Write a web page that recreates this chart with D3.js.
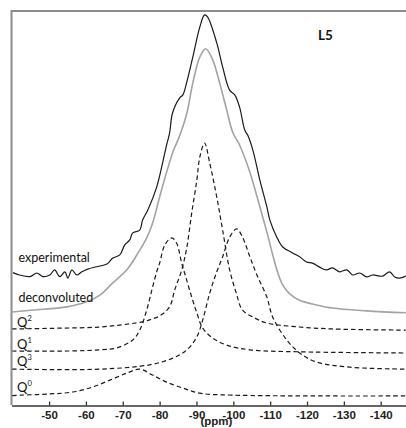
<!DOCTYPE html>
<html>
<head>
<meta charset="utf-8">
<script src="https://cdn.jsdelivr.net/npm/d3@7"></script>
<style>
  html, body { margin: 0; padding: 0; background: #fff; }
  svg { display: block; }
</style>
</head>
<body>
<svg id="chart" width="406" height="428"></svg>
<script>
// 29Si MAS NMR spectrum of sample L5: measured trace, fitted sum and the
// individual Q-species components (stacked with vertical offsets).
// Each series: [chemical shift (ppm), intensity (a.u., 0–100)]

const sampleName = "L5";

const experimental = [
  [-40.2,33.6],[-42.0,33.0],[-44.8,32.6],[-46.7,33.5],[-48.3,32.6],[-50.2,33.0],
  [-51.5,34.3],[-52.9,32.6],[-54.3,33.8],[-55.1,32.2],[-56.2,34.3],[-57.5,33.0],
  [-58.9,33.8],[-60.5,34.5],[-62.9,35.1],[-65.7,35.8],[-67.3,37.3],[-69.2,38.1],
  [-70.5,40.6],[-71.9,41.9],[-72.7,43.7],[-74.6,44.4],[-75.4,47.0],[-76.8,49.5],
  [-79.2,55.3],[-80.8,61.4],[-81.9,66.0],[-82.7,69.0],[-83.5,74.1],[-85.4,77.9],
  [-86.3,78.7],[-87.3,81.7],[-89.0,88.3],[-90.9,95.9],[-92.2,99.0],[-93.0,98.5],
  [-95.5,91.9],[-97.1,85.8],[-99.0,79.9],[-100.4,78.7],[-101.7,75.6],[-103.1,69.8],
  [-103.9,68.5],[-105.3,64.7],[-107.2,57.1],[-109.1,50.3],[-109.9,47.0],[-111.8,42.6],
  [-113.4,40.1],[-116.1,38.6],[-118.0,37.6],[-119.9,36.3],[-121.5,36.0],[-123.4,35.0],
  [-125.3,34.3],[-126.9,34.8],[-128.8,33.8],[-130.8,34.3],[-132.4,33.0],[-134.3,33.5],
  [-136.2,32.5],[-137.8,33.0],[-140.5,32.7],[-142.4,33.8],[-143.8,32.5],[-145.1,32.2],
  [-146.8,32.7]
];

const deconvoluted = [
  [-40.0,23.6],[-45.6,24.1],[-54.8,24.9],[-60.2,26.2],[-63.8,27.9],[-67.3,31.0],
  [-71.1,34.3],[-74.6,39.3],[-76.5,42.4],[-78.1,46.2],[-80.0,52.8],[-81.9,59.1],
  [-83.6,64.2],[-85.5,68.5],[-87.4,74.1],[-89.0,81.7],[-90.9,88.3],[-92.5,90.4],
  [-94.4,87.6],[-96.3,81.7],[-98.2,74.9],[-99.8,69.3],[-101.7,66.0],[-104.5,59.1],
  [-107.2,50.3],[-109.1,43.9],[-110.7,38.1],[-112.0,33.8],[-113.4,30.5],[-115.3,28.2],
  [-118.0,26.6],[-122.6,25.4],[-126.9,24.6],[-136.2,23.9],[-146.8,23.4]
];

// Q2 component, centred near -92 ppm
const q2 = [
  [-40.0,19.3],[-52.9,19.5],[-63.8,19.8],[-71.9,20.6],[-75.4,21.1],[-77.9,21.8],
  [-80.0,22.6],[-82.7,24.9],[-84.1,29.2],[-86.0,34.3],[-87.4,40.1],[-88.7,48.7],
  [-90.1,57.1],[-90.9,62.9],[-92.2,66.5],[-93.6,61.4],[-95.5,52.8],[-97.1,44.4],
  [-99.0,34.3],[-100.7,28.7],[-102.5,24.1],[-105.8,22.1],[-109.1,20.8],[-118.0,19.8],
  [-126.9,19.3],[-146.8,19.0]
];

// Q1 component, centred near -83 ppm
const q1 = [
  [-40.0,13.7],[-54.8,13.7],[-63.8,14.0],[-68.4,14.5],[-72.7,16.5],[-74.6,19.0],
  [-76.5,24.1],[-77.9,29.2],[-79.2,33.8],[-80.0,36.0],[-81.4,40.6],[-83.3,42.4],
  [-84.6,41.1],[-86.0,36.0],[-87.1,32.5],[-88.7,27.4],[-90.1,23.4],[-91.7,19.5],
  [-94.4,17.0],[-98.2,15.2],[-104.5,14.0],[-118.0,13.5],[-146.8,13.2]
];

// Q3 component, centred near -101 ppm
const q3 = [
  [-40.0,9.1],[-63.8,9.1],[-77.3,10.2],[-83.6,11.9],[-87.4,14.0],[-90.1,17.3],
  [-91.7,21.6],[-93.6,28.4],[-95.5,33.8],[-97.1,37.6],[-99.0,42.6],[-100.9,44.7],
  [-102.5,42.6],[-104.5,37.6],[-106.4,33.0],[-109.1,27.4],[-110.7,22.3],[-114.5,16.5],
  [-118.0,13.2],[-122.6,10.9],[-131.6,9.6],[-146.8,9.1]
];

// Q0 component, centred near -75 ppm
const q0 = [
  [-40.0,2.4],[-42.0,2.5],[-50.2,2.8],[-56.4,3.3],[-61.9,4.6],[-66.5,6.3],
  [-71.1,8.1],[-74.6,9.1],[-78.1,7.6],[-81.9,5.8],[-86.3,4.3],[-90.9,3.0],
  [-99.8,2.5],[-146.8,2.3]
];

// Curve captions: [text, superscript, anchor ppm, anchor intensity]
const curveLabels = [
  ["experimental", "", -41.7, 36.4],
  ["deconvoluted", "", -41.7, 26.2],
  ["Q", "2", -41.3, 19.9],
  ["Q", "1", -41.3, 14.2],
  ["Q", "3", -41.3, 9.9],
  ["Q", "0", -41.3, 3.3]
];

const tickValues = [-50, -60, -70, -80, -90, -100, -110, -120, -130, -140];
const tickLabels = ["-50", "-60", "-70", "-80", "-90", "-100", "-110", "-120", "-130", "-140"];
const axisTitle = "(ppm)";

const svg = d3.select("#chart");

const x = d3.scaleLinear().domain([-39.8, -147]).range([11.5, 406.5]);
const y = d3.scaleLinear().domain([0, 100]).range([405, 11]);

const line = d3.line()
  .x(d => x(d[0]))
  .y(d => y(d[1]))
  .curve(d3.curveCatmullRom.alpha(0.5));

// plot frame (top and left edges)
svg.append("path")
  .attr("d", `M${x(-39.8)},${y(0)}V${y(100)}H406`)
  .attr("fill", "none")
  .attr("stroke", "#8c8c8c")
  .attr("stroke-width", 2);

// components
[q2, q1, q3, q0].forEach(series => {
  svg.append("path")
    .datum(series)
    .attr("d", line)
    .attr("fill", "none")
    .attr("stroke", "#1a1a1a")
    .attr("stroke-width", 1.2)
    .attr("stroke-dasharray", "4.5,3");
});

svg.append("path")
  .datum(deconvoluted)
  .attr("d", line)
  .attr("fill", "none")
  .attr("stroke", "#a3a3a3")
  .attr("stroke-width", 1.6);

svg.append("path")
  .datum(experimental)
  .attr("d", d3.line().x(d => x(d[0])).y(d => y(d[1])).curve(d3.curveCatmullRom.alpha(0.5)))
  .attr("fill", "none")
  .attr("stroke", "#1a1a1a")
  .attr("stroke-width", 1.2);

// captions
curveLabels.forEach(([txt, sup, px, py]) => {
  const t = svg.append("text")
    .attr("x", x(px))
    .attr("y", y(py))
    .attr("font-family", "Lato, 'Noto Sans', sans-serif")
    .attr("font-size", sup ? 13 : 12.5)
    .attr("fill", "#111")
    .text(txt);
  if (sup) {
    t.append("tspan")
      .attr("font-size", 7.5)
      .attr("dy", -6)
      .text(sup);
  }
});

svg.append("text")
  .attr("x", 318)
  .attr("y", 40)
  .attr("font-family", "Lato, 'Noto Sans', sans-serif")
  .attr("font-weight", "bold")
  .attr("font-size", 13.5)
  .attr("fill", "#111")
  .text(sampleName);

// bottom axis, ticks pointing into the plot
const axis = d3.axisBottom(x)
  .tickValues(tickValues)
  .tickFormat((d, i) => tickLabels[i])
  .tickSizeInner(-4)
  .tickSizeOuter(0)
  .tickPadding(5);

const gAxis = svg.append("g")
  .attr("transform", `translate(0,${y(0) + 0.5})`)
  .call(axis);

gAxis.select(".domain").attr("stroke", "#333").attr("stroke-width", 1.6);
gAxis.selectAll(".tick line").attr("stroke", "#333").attr("stroke-width", 1.3);
gAxis.selectAll(".tick text")
  .attr("font-family", "'Liberation Sans', Arial, sans-serif")
  .attr("font-size", 11.5)
  .attr("font-weight", "bold")
  .attr("fill", "#222");

svg.append("text")
  .attr("x", x(-95.4))
  .attr("y", 425)
  .attr("text-anchor", "middle")
  .attr("font-family", "'Liberation Sans', Arial, sans-serif")
  .attr("font-size", 11.5)
  .attr("font-weight", "bold")
  .attr("fill", "#222")
  .text(axisTitle);
</script>
</body>
</html>
